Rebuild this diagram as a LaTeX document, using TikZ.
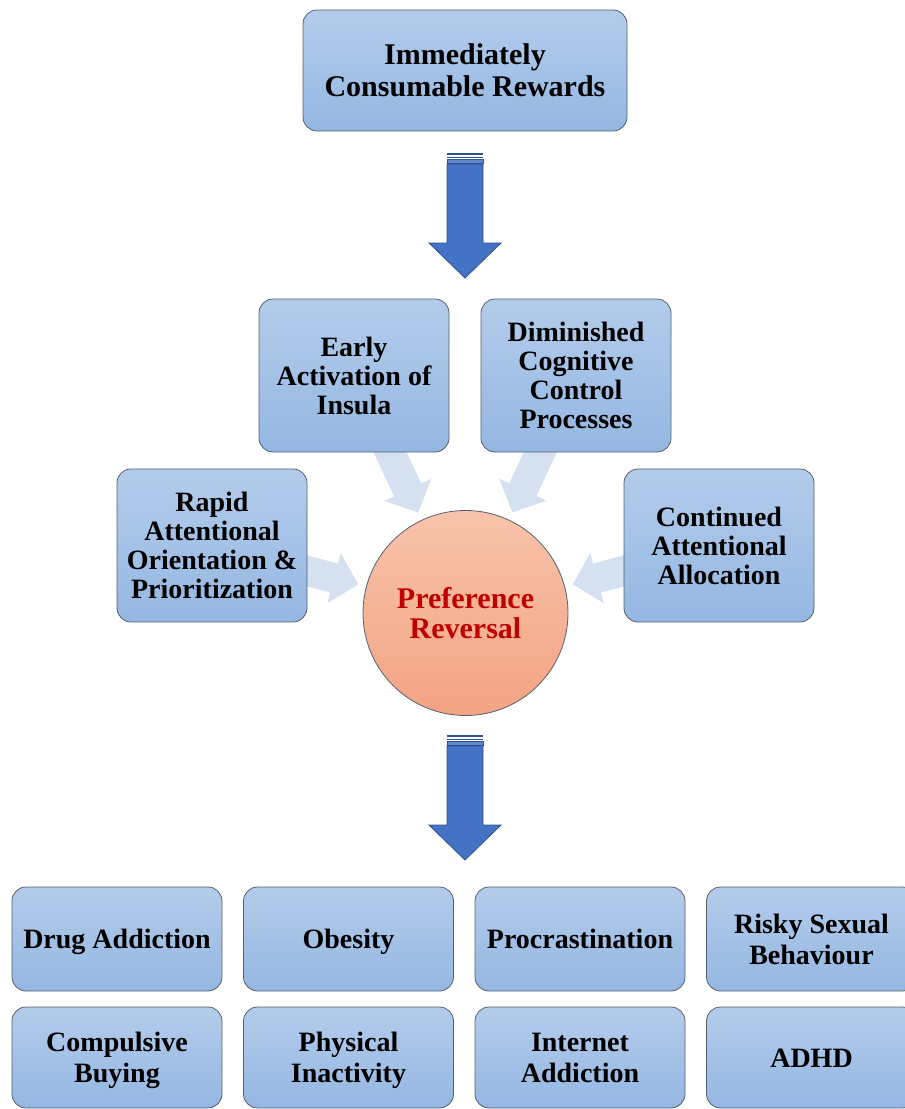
\documentclass[tikz,border=0pt]{standalone}
\usepackage{fontspec}
\setmainfont{Liberation Serif}
\usetikzlibrary{calc,backgrounds}
\definecolor{boxtop}{HTML}{B4CCEB}
\definecolor{boxbot}{HTML}{94B7E2}
\definecolor{boxline}{HTML}{56606B}
\definecolor{circtop}{HTML}{F7C3AA}
\definecolor{circbot}{HTML}{F3A383}
\definecolor{circtext}{HTML}{C00000}
\definecolor{arrfill}{HTML}{4472C4}
\definecolor{arrline}{HTML}{2F528F}
\definecolor{lightarr}{HTML}{D5E1F1}
\newcommand{\bt}{\rule{0pt}{26.5pt}}
\newcommand{\bb}{\rule[-7pt]{0pt}{7pt}}
\newcommand{\radarr}[1]{%
  \path ($(pr.center)!111pt!(#1.center)$) coordinate (t)
        ($(pr.center)!136pt!(#1.center)$) coordinate (hb)
        ($(pr.center)!200pt!(#1.center)$) coordinate (tl);
  \fill[lightarrow] (t) -- ($(hb)!26pt!90:(tl)$) -- ($(hb)!15pt!90:(tl)$)
     -- ($(tl)!15pt!-90:(hb)$) -- ($(tl)!15pt!90:(hb)$)
     -- ($(hb)!15pt!-90:(tl)$) -- ($(hb)!26pt!-90:(tl)$) -- cycle;
}
\begin{document}
\begin{tikzpicture}[x=1pt,y=-1pt,
  box/.style={draw=boxline, line width=0.8pt, rounded corners=14pt,
    top color=boxtop, bottom color=boxbot, align=center, inner sep=0pt,
    font=\bfseries\fontsize{28}{29}\selectfont},
  botbox/.style={box, minimum width=210pt, minimum height=104pt,
    font=\bfseries\fontsize{28}{31}\selectfont},
  midbox/.style={box, minimum width=190pt, minimum height=153pt},
  lightarrow/.style={fill=lightarr},
  bigarr/.pic={
    \fill[arrline] (-18,0) rectangle (18,2);
    \fill[arrline] (-18,3.5) rectangle (18,5);
    \filldraw[fill=arrfill!85!white, draw=arrline, line width=0.6pt] (-18,6.5) rectangle (18,10);
    \filldraw[fill=arrfill, draw=arrline, line width=0.8pt]
      (-18,11) -- (18,11) -- (18,90) -- (36,90) -- (0,125) -- (-36,90) -- (-18,90) -- cycle;
  }]
\useasboundingbox (0,0) rectangle (905,1109);

\node[box, minimum width=324pt, minimum height=121pt,
  font=\bfseries\fontsize{30}{32}\selectfont] (top) at (465,70.5)
  {Immediately\\Consumable Rewards};

\node[midbox] (early) at (354,375.5) {Early\\Activation of\\Insula};
\node[midbox] (dimin) at (576,375.5) {Diminished\\Cognitive\\Control\\Processes};
\node[midbox] (rapid) at (212,545.5) {Rapid\\Attentional\\Orientation \&\\Prioritization};
\node[midbox] (cont) at (719,545.5) {Continued\\Attentional\\Allocation};

\node[circle, draw=boxline, line width=0.8pt, top color=circtop, bottom color=circbot,
  minimum size=205pt, inner sep=0pt, align=center, text=circtext,
  font=\bfseries\fontsize{30}{30}\selectfont] (pr) at (465.5,613) {Preference\\Reversal};

\begin{scope}[on background layer]
  \radarr{early}
  \radarr{dimin}
  \radarr{rapid}
  \radarr{cont}
\end{scope}

\path (465,153) pic {bigarr};
\path (465,735) pic {bigarr};

\node[botbox] (b1) at (117,939) {\bt Drug Addiction\bb};
\node[botbox] (b2) at (348.5,939) {\bt Obesity\bb};
\node[botbox] (b3) at (580,939) {\bt Procrastination\bb};
\node[botbox] (b4) at (811.5,939) {\bt Risky Sexual\\Behaviour\bb};
\node[botbox, minimum height=101pt] (b5) at (117,1057.5) {\bt Compulsive\\Buying\bb};
\node[botbox, minimum height=101pt] (b6) at (348.5,1057.5) {\bt Physical\\Inactivity\bb};
\node[botbox, minimum height=101pt] (b7) at (580,1057.5) {\bt Internet\\Addiction\bb};
\node[botbox, minimum height=101pt] (b8) at (811.5,1057.5) {\bt ADHD\bb};
\end{tikzpicture}
\end{document}
